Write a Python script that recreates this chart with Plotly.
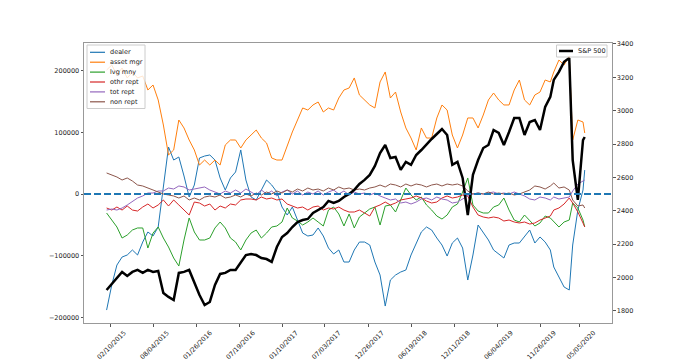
import pandas as pd
import plotly.graph_objects as go

# ---------------- data ----------------
base_dates = pd.date_range("2015-01-27", periods=85, freq="21D").strftime("%Y-%m-%d").tolist()
tail_dates = ["2019-12-17", "2020-01-07", "2020-01-21", "2020-02-11", "2020-03-03",
              "2020-03-24", "2020-04-07", "2020-04-28", "2020-05-19", "2020-05-26"]
dates = base_dates + tail_dates

dealer = [-188200, -147600, -115200, -102200, -98900, -90800, -98900, -77900, -61600, -68100,
          -53500, 14600, 76200, 55100, 60000, 29200, -4900, 14600, 58400, 61600,
          63300, 55100, 26000, 6500, 26000, 35700, 71400, 22700, -4900, -9700,
          6500, 22700, 14600, 3200, -21100, -34100, -21100, -42200, -63300, -68100,
          -66500, -55100, -68100, -87600, -97300, -90800, -110300, -110300, -90800, -77900,
          -77900, -82700, -110300, -131400, -181700, -139500, -131400, -126500, -123300, -98900,
          -79500, -61600, -53500, -58400, -71400, -82700, -100600, -79500, -71400, -87600,
          -139500, -98900, -50300, -61600, -74600, -90800, -97300, -103800, -82700, -79500,
          -79500, -69700, -58400, -79500, -69700, -77900, -90800, -118400, -134600, -150800,
          -155700, -82700, -26000, 6500, 38900]

asset_mgr = [201100, 209200, 193000, 204400, 188200, 197900, 188200, 191400, 168700, 176800,
             152500, 111900, 63300, 71400, 120000, 107100, 87600, 71400, 47000, 55100,
             47000, 55100, 47000, 79500, 87600, 87600, 74600, 87600, 95700, 103800,
             90800, 82700, 58400, 55100, 55100, 79500, 100600, 120000, 139500, 136200,
             144400, 149200, 133000, 139500, 136200, 155700, 168700, 171900, 188200, 160600,
             152500, 144400, 139500, 181700, 197900, 155700, 165400, 133000, 107100, 90800,
             71400, 107100, 90800, 90800, 123300, 144400, 136200, 95700, 74600, 95700,
             123300, 123300, 107100, 128100, 152500, 163800, 152500, 144400, 144400, 168700,
             184900, 152500, 144400, 160600, 165400, 184900, 181700, 197900, 217300, 209200,
             223800, 87600, 120000, 116800, 98900]

lvg_mny = [-30800, -42200, -53500, -71400, -66500, -58400, -55100, -55100, -87600, -63300,
           -53500, -71400, -86000, -103800, -116800, -74600, -38900, -61600, -74600, -74600,
           -71400, -55100, -45400, -55100, -71400, -77900, -90800, -74600, -63300, -58400,
           -71400, -63300, -53500, -51900, -45400, -22700, -38900, -43800, -50300, -45400,
           -38900, -45400, -51900, -26000, -21100, -32400, -51900, -32400, -55100, -37300,
           -30800, -24300, -21100, -50300, -19500, -17800, -29200, -9700, 9700, -1600,
           -9700, -4900, -17800, -26000, -35700, -40600, -34100, -21100, -16200, 3200,
           26000, -17800, -27600, -30800, -30800, -21100, -17800, -6500, -26000, -42200,
           -45400, -34100, -42200, -51900, -47000, -35700, -38900, -45400, -53500, -45400,
           -42200, -14600, -22700, -42200, -53500]

othr_rept = [-22700, -26000, -21100, -26000, -19500, -26000, -27600, -21100, -16200, -22700,
             -17800, -9700, -19500, -9700, -17800, -26000, -34100, -13000, -14600, -19500,
             -16200, -26000, -19500, -22700, -16200, -17800, -9700, -8100, -8100, -9700,
             -4900, -8100, -6500, -9700, -8100, -16200, -19500, -22700, -21100, -26000,
             -21100, -19500, -26000, -22700, -24300, -21100, -26000, -29200, -29200, -26000,
             -30800, -35700, -21100, -17800, -13000, -17800, -14600, -9700, -8100, -6500,
             -3200, -6500, -11400, -14600, -13000, -6500, -3200, -6500, -4900, -1600,
             -3200, -21100, -34100, -37300, -38900, -37300, -38900, -43800, -42200, -45400,
             -47000, -45400, -48700, -47000, -42200, -38900, -35700, -26000, -22700, -16200,
             -6500, -14600, -29200, -47000, -53500]

tot_rept = [-26000, -24300, -26000, -22700, -17800, -11400, -6500, -3200, 1600, 1600,
            4900, 4900, 9700, 8100, 13000, 11400, 6500, 8100, 9700, 11400,
            6500, 3200, 0, 4900, 1600, 6500, 1600, 8100, 3200, -1600,
            6500, 0, 4900, -3200, 3200, 6500, 0, 4900, -1600, 3200,
            0, 4900, -1600, 3200, 6500, 0, 4900, -1600, 3200, 0,
            1600, -1600, 1600, -3200, -6500, -9700, -8100, -14600, -13000, -16200,
            -13000, -8100, -6500, -9700, -4900, -8100, -9700, -14600, -13000, -8100,
            -3200, 0, 1600, 0, 1600, 3200, 0, 1600, 0, 3200,
            0, -3200, -8100, -9700, -4900, -6500, -9700, -4900, -8100, -6500,
            -4900, 4900, 16200, 21100, 22700]

non_rept = [34100, 30800, 27600, 22700, 26000, 21100, 14600, 13000, 9700, 6500,
            3200, 0, -1600, -3200, -6500, -3200, -9700, -6500, -9700, -4900,
            -3200, -4900, -1600, -6500, -4900, -1600, -4900, 0, -3200, 1600,
            -1600, 3200, 0, 4900, 1600, 6500, 3200, 8100, 4900, 9700,
            6500, 8100, 4900, 9700, 6500, 11400, 8100, 9700, 6500, 8100,
            6500, 9700, 11400, 14600, 11400, 16200, 14600, 11400, 16200, 13000,
            16200, 14600, 11400, 14600, 16200, 13000, 16200, 14600, 16200, 13000,
            4900, 0, 1600, 0, 3200, 0, 1600, 0, 1600, -1600,
            0, 3200, 6500, 13000, 11400, 8100, 13000, 17800, 9700, 11400,
            6500, -9700, -19500, -17800, -22700]

sp500 = [1926, 1962, 1998, 2034, 2010, 2034, 2046, 2028, 2046, 2034,
         2040, 1908, 1884, 1866, 2028, 2034, 2046, 1974, 1896, 1836,
         1854, 1956, 2022, 2028, 2046, 2046, 2094, 2135, 2141, 2135,
         2117, 2111, 2094, 2183, 2243, 2267, 2303, 2333, 2345, 2351,
         2387, 2405, 2423, 2459, 2447, 2459, 2483, 2501, 2525, 2561,
         2585, 2615, 2669, 2746, 2794, 2716, 2722, 2645, 2693, 2675,
         2734, 2764, 2800, 2830, 2860, 2890, 2854, 2675, 2693, 2597,
         2375, 2615, 2704, 2776, 2794, 2884, 2866, 2794, 2872, 2956,
         2956, 2854, 2932, 2944, 2884, 3022, 3082, 3184, 3232, 3292,
         3315, 2704, 2465, 2824, 2842]

series_names = ["dealer", "asset mgr", "lvg mny", "othr rept", "tot rept", "non rept"]
series_values = [dealer, asset_mgr, lvg_mny, othr_rept, tot_rept, non_rept]
series_colors = ["#1f77b4", "#ff7f0e", "#2ca02c", "#d62728", "#9467bd", "#8c564b"]

tick_dates = ["2015-02-10", "2015-08-04", "2016-01-26", "2016-07-19", "2017-01-10",
              "2017-07-03", "2017-12-26", "2018-06-19", "2018-12-11", "2019-06-04",
              "2019-11-26", "2020-05-05"]
tick_labels = ["02/10/2015", "08/04/2015", "01/26/2016", "07/19/2016", "01/10/2017",
               "07/03/2017", "12/26/2017", "06/19/2018", "12/11/2018", "06/04/2019",
               "11/26/2019", "05/05/2020"]
left_ticks = [-200000, -100000, 0, 100000, 200000]
left_labels = ["\u2212200000", "\u2212100000", "0", "100000", "200000"]
right_ticks = [1800, 2000, 2200, 2400, 2600, 2800, 3000, 3200, 3400]

# ---------------- layout geometry ----------------
# the page body has an 8px margin, so the figure is drawn 8px smaller and
# all target pixel positions are given in window coordinates (minus 8).
OFF = 8
W, H = 680 - OFF, 363 - OFF
ML, MR, MT, MB = 84 - OFF, 68, 43 - OFF, 40
PW, PH = W - ML - MR, H - MT - MB
FONT = "DejaVu Sans"
FS = 6.5


def px(x):
    return (x - OFF - ML) / PW


def py(y):
    return (H - MB - (y - OFF)) / PH


fig = go.Figure()
for name, vals, col in zip(series_names, series_values, series_colors):
    fig.add_trace(go.Scatter(x=dates, y=vals, mode="lines", name=name,
                             line=dict(color=col, width=1), yaxis="y", showlegend=False))
fig.add_trace(go.Scatter(x=dates, y=sp500, mode="lines", name="S&P 500",
                         line=dict(color="black", width=2.5), yaxis="y2", showlegend=False))

shapes = [dict(type="line", xref="paper", yref="y", x0=0, x1=1, y0=0, y1=0,
               line=dict(color="#1f77b4", width=2, dash="7px,3px"), layer="above")]
annotations = []

# legend 1 (upper left)
shapes.append(dict(type="rect", xref="paper", yref="paper",
                   x0=px(87), x1=px(145), y0=py(108.5), y1=py(45),
                   fillcolor="rgba(255,255,255,0.8)", line=dict(color="#cccccc", width=1),
                   layer="above"))
for i, (name, col) in enumerate(zip(series_names, series_colors)):
    yc = 52.3 + 9.9 * i
    shapes.append(dict(type="line", xref="paper", yref="paper", x0=px(90), x1=px(105),
                       y0=py(yc), y1=py(yc), line=dict(color=col, width=1.2), layer="above"))
    annotations.append(dict(xref="paper", yref="paper", x=px(108.5), y=py(yc), text=name,
                            showarrow=False, xanchor="left", yanchor="middle", borderpad=0,
                            font=dict(family=FONT, size=FS, color="#222")))

# legend 2 (upper right)
shapes.append(dict(type="rect", xref="paper", yref="paper",
                   x0=px(556.5), x1=px(607), y0=py(57), y1=py(45),
                   fillcolor="rgba(255,255,255,0.8)", line=dict(color="#cccccc", width=1),
                   layer="above"))
shapes.append(dict(type="line", xref="paper", yref="paper", x0=px(559), x1=px(573),
                   y0=py(51), y1=py(51), line=dict(color="black", width=2.5), layer="above"))
annotations.append(dict(xref="paper", yref="paper", x=px(576.5), y=py(51), text="S&P 500",
                        showarrow=False, xanchor="left", yanchor="middle", borderpad=0,
                        font=dict(family=FONT, size=FS, color="#222")))

axis_common = dict(showgrid=False, zeroline=False, ticks="outside", ticklen=2.5,
                   tickwidth=1, tickcolor="#555",
                   tickfont=dict(family=FONT, size=FS, color="#222"))

fig.update_layout(
    width=W, height=H,
    margin=dict(l=ML, r=MR, t=MT, b=MB, autoexpand=False),
    paper_bgcolor="white", plot_bgcolor="white",
    font=dict(family=FONT, size=FS, color="#222"),
    showlegend=False,
    xaxis=dict(type="date", range=["2014-10-27", "2020-09-14"],
               tickvals=tick_dates, ticktext=tick_labels, tickangle=-45,
               ticklabelshift=14, showline=True, mirror=True,
               linecolor="#999", linewidth=1, **axis_common),
    yaxis=dict(range=[-209200, 244900], tickvals=left_ticks, ticktext=left_labels,
               showline=True, mirror=True, linecolor="#999", linewidth=1, **axis_common),
    yaxis2=dict(range=[1728, 3405], tickvals=right_ticks, overlaying="y", side="right",
                showline=False, **axis_common),
    shapes=shapes,
    annotations=annotations,
)

fig.write_html("out.html")
